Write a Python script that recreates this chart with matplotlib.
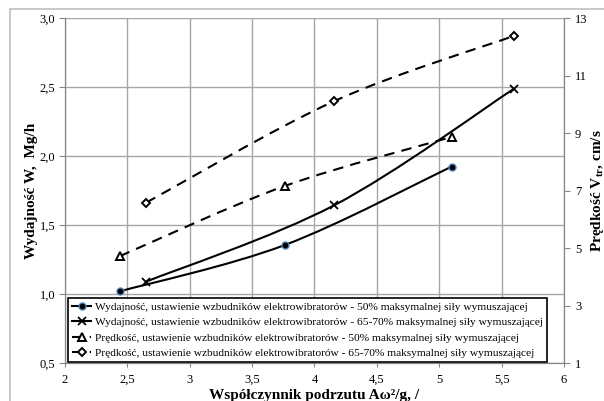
import matplotlib
matplotlib.use("Agg")
import matplotlib.pyplot as plt
from matplotlib.path import Path
from matplotlib.patches import PathPatch, Rectangle
from matplotlib.lines import Line2D
from matplotlib.ticker import FuncFormatter, MultipleLocator

plt.rcParams["font.family"] = ["Liberation Serif", "DejaVu Serif"]
plt.rcParams["mathtext.fontset"] = "custom"
plt.rcParams["mathtext.rm"] = "Liberation Serif"
plt.rcParams["mathtext.bf"] = "Liberation Serif:bold"

# data
x_50 = [2.44, 3.76, 5.10]
x_65 = [2.65, 4.16, 5.60]
w_50 = [1.02, 1.355, 1.925]      # Wydajnosc, Mg/h
w_65 = [1.09, 1.645, 2.49]
v_50 = [4.72, 7.16, 8.87]        # Predkosc, cm/s
v_65 = [6.58, 10.12, 12.39]
v_ticks = [1, 3, 5, 7, 9, 11, 13]

labels = [
    "Wydajność, ustawienie wzbudników elektrowibratorów - 50% maksymalnej siły wymuszającej",
    "Wydajność, ustawienie wzbudników elektrowibratorów - 65-70% maksymalnej siły wymuszającej",
    "Prędkość, ustawienie wzbudników elektrowibratorów - 50% maksymalnej siły wymuszającej",
    "Prędkość, ustawienie wzbudników elektrowibratorów - 65-70% maksymalnej siły wymuszającej",
]

grid_c = "#a6a6a6"
spine_c = "#868686"


def smooth_path(xs, ys):
    # excel-like smoothed line: catmull-rom segments as cubic bezier
    pts = list(zip(xs, ys))
    n = len(pts)
    verts = [pts[0]]
    codes = [Path.MOVETO]
    for i in range(n - 1):
        p0 = pts[max(i - 1, 0)]
        p1 = pts[i]
        p2 = pts[i + 1]
        p3 = pts[min(i + 2, n - 1)]
        c1 = (p1[0] + (p2[0] - p0[0]) / 6, p1[1] + (p2[1] - p0[1]) / 6)
        c2 = (p2[0] - (p3[0] - p1[0]) / 6, p2[1] - (p3[1] - p1[1]) / 6)
        verts += [c1, c2, p2]
        codes += [Path.CURVE4] * 3
    return Path(verts, codes)


def add_curve(ax, xs, ys, ls):
    patch = PathPatch(smooth_path(xs, ys), facecolor="none", edgecolor="black",
                      lw=1.5, linestyle=ls, zorder=3)
    ax.add_patch(patch)


fig = plt.figure(figsize=(6.04, 4.01), dpi=100)
fig.patches.append(Rectangle((10 / 604, -0.1), 1.2, (401 - 9) / 401 + 0.1,
                             transform=fig.transFigure, fill=False,
                             edgecolor="#bfbfbf", lw=1.2))

ax = fig.add_axes([65 / 604, 38 / 401, 499 / 604, 344.7 / 401])
ax2 = ax.twinx()

dash = (0, (5, 3.5))
add_curve(ax, x_50, w_50, "-")
add_curve(ax, x_65, w_65, "-")
add_curve(ax2, x_50, v_50, dash)
add_curve(ax2, x_65, v_65, dash)

ax.plot(x_50, w_50, ls="none", marker="o", ms=5, mfc="black", mec="#4f81bd", mew=1, zorder=4)
ax.plot(x_65, w_65, ls="none", marker="x", ms=6, color="black", mew=1.3, zorder=4)
ax2.plot(x_50, v_50, ls="none", marker="^", ms=5.5, mfc="white", mec="black", mew=1.4, zorder=4)
ax2.plot(x_65, v_65, ls="none", marker="D", ms=4.5, mfc="white", mec="black", mew=1.4, zorder=4)

ax.set_xlim(2, 6)
ax.set_ylim(0.5, 3.0)
ax2.set_ylim(1, 13)
ax.xaxis.set_major_locator(MultipleLocator(0.5))
ax.yaxis.set_major_locator(MultipleLocator(0.5))
ax2.set_yticks(v_ticks)
ax.xaxis.set_major_formatter(FuncFormatter(lambda v, p: f"{v:g}".replace(".", ",")))
ax.yaxis.set_major_formatter(FuncFormatter(lambda v, p: f"{v:.1f}".replace(".", ",")))

ax.grid(True, color=grid_c, lw=1)
ax.set_axisbelow(True)
for a in (ax, ax2):
    for s in a.spines.values():
        s.set_color(spine_c)
    a.spines["top"].set_visible(False)
ax.tick_params(axis="x", direction="inout", length=6, color=spine_c, labelsize=9, pad=5)
ax.tick_params(axis="y", direction="out", length=4, color=spine_c, labelsize=9, pad=3)
ax2.tick_params(axis="y", direction="out", length=4, color=spine_c, labelsize=9, pad=4)

ax.set_xlabel("Współczynnik podrzutu Aω²/g, /", fontsize=11, fontweight="bold")
ax.xaxis.set_label_coords(0.5, -0.075)
ax.set_ylabel("Wydajność W,  Mg/h", fontsize=11, fontweight="bold")
ax.yaxis.set_label_coords(-0.054, 0.5)
ax2.set_ylabel(r"Prędkość V$_{\mathbf{tr}}$, cm/s", fontsize=11, fontweight="bold")
ax2.yaxis.set_label_coords(1.05, 0.5)

handles = [
    Line2D([], [], color="black", lw=1.5, marker="o", ms=5, mfc="black", mec="#4f81bd"),
    Line2D([], [], color="black", lw=1.5, marker="x", ms=6, mew=1.3),
    Line2D([], [], color="black", lw=1.5, ls=dash, marker="^", ms=5.5, mfc="white", mew=1.4),
    Line2D([], [], color="black", lw=1.5, ls=dash, marker="D", ms=4.5, mfc="white", mew=1.4),
]
leg = ax2.legend(handles, labels, loc="lower left", bbox_to_anchor=(0.006, 0.004),
                 fontsize=8.2, frameon=True, fancybox=False, framealpha=1,
                 edgecolor="black", handlelength=1.7, handletextpad=0.3,
                 labelspacing=0.45, borderpad=0.35, borderaxespad=0)
leg.get_frame().set_linewidth(1.2)

fig.savefig("out.png", dpi=100)
